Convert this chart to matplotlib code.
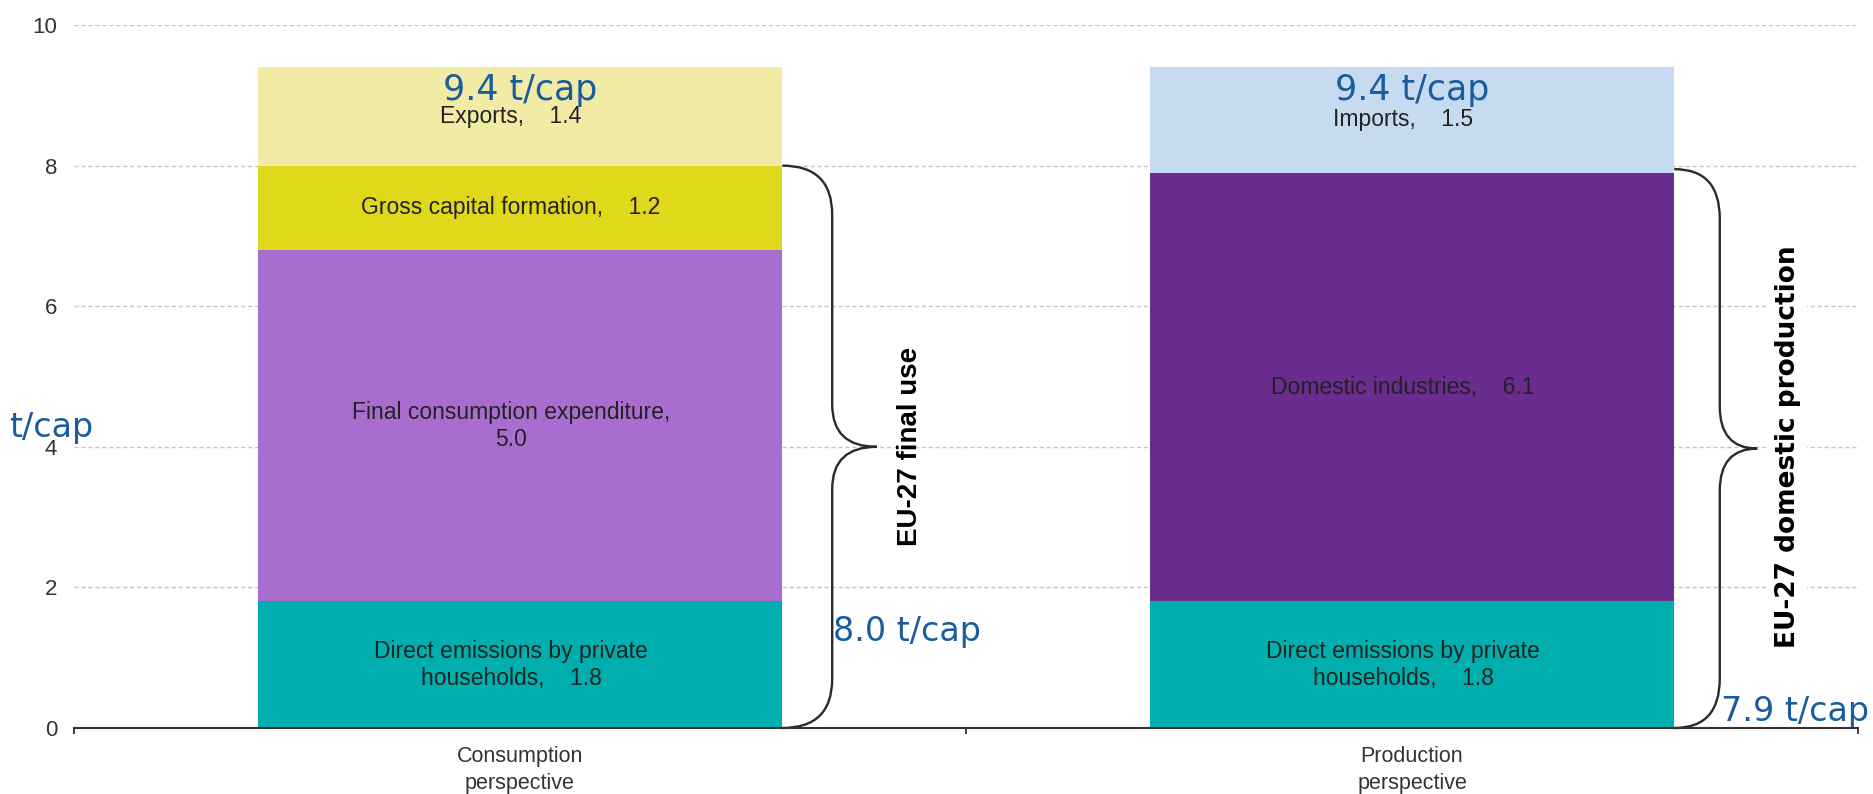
import numpy as np
import matplotlib.pyplot as plt
from matplotlib.path import Path
from matplotlib.patches import PathPatch

# data (t CO2 per capita)
perspectives = ["Consumption\nperspective", "Production\nperspective"]
cons_labels = ["Direct emissions by private\nhouseholds,    1.8", "Final consumption expenditure,\n5.0",
               "Gross capital formation,    1.2", "Exports,    1.4"]
cons_values = [1.8, 5.0, 1.2, 1.4]
cons_colors = ["#00AFAD", "#A86DCF", "#E0D81A", "#F1EBA6"]
prod_labels = ["Direct emissions by private\nhouseholds,    1.8", "Domestic industries,    6.1", "Imports,    1.5"]
prod_values = [1.8, 6.1, 1.5]
prod_colors = ["#00AFAD", "#6A2C8E", "#C6DAF0"]
y_ticks = [0, 2, 4, 6, 8, 10]

blue = "#1B5C9C"
label_font = "Liberation Sans"

fig = plt.figure(figsize=(18.73, 7.94), dpi=100)
ax = fig.add_axes([0.0395, 0.0831, 0.9525, 0.8854])

bar_w = 0.588


def stack(xpos, values, colors, labels):
    bottom = 0
    for v, c, lab in zip(values, colors, labels):
        ax.bar(xpos, v, bar_w, bottom=bottom, color=c, zorder=2)
        ax.text(xpos - 0.01, bottom + v / 2, lab, ha="center", va="center", fontsize=16.5,
                family=label_font, color="#222222", linespacing=1.2, zorder=3)
        bottom += v
    return bottom


tot_c = stack(0, cons_values, cons_colors, cons_labels)
tot_p = stack(1, prod_values, prod_colors, prod_labels)

# totals on top of the bars
ax.text(0, tot_c - 0.32, f"{tot_c:.1f} t/cap", ha="center", va="center", fontsize=25,
        family="DejaVu Sans", color=blue, zorder=4)
ax.text(1, tot_p - 0.32, f"{tot_p:.1f} t/cap", ha="center", va="center", fontsize=25,
        family="DejaVu Sans", color=blue, zorder=4)


def brace(x0, x1, x2, y0, y1, r_end, r_mid):
    ym = (y0 + y1) / 2
    verts = [(x0, y1), (x1, y1), (x1, y1 - r_end),
             (x1, ym + r_mid), (x1, ym), (x2, ym),
             (x1, ym), (x1, ym - r_mid),
             (x1, y0 + r_end), (x1, y0), (x0, y0)]
    codes = [Path.MOVETO, Path.CURVE3, Path.CURVE3,
             Path.LINETO, Path.CURVE3, Path.CURVE3,
             Path.CURVE3, Path.CURVE3,
             Path.LINETO, Path.CURVE3, Path.CURVE3]
    ax.add_patch(PathPatch(Path(verts, codes), fill=False, lw=1.7, ec="#2a2a2a",
                           clip_on=False, zorder=4))


final_use = cons_values[0] + cons_values[1] + cons_values[2]
dom_prod = prod_values[0] + prod_values[1]
half = bar_w / 2
brace(half, 0.35, 0.40, 0, final_use, 0.7, 0.6)
brace(1 + half, 1.345, 1.387, 0, dom_prod + 0.05, 0.7, 0.6)

ax.text(0.437, final_use / 2, "EU-27 final use", rotation=90, ha="center", va="center",
        fontsize=20, fontweight="bold", family="Liberation Sans", color="black", zorder=5)
ax.text(1.421, final_use / 2, "EU-27 domestic production", rotation=90, ha="center", va="center",
        fontsize=19, fontweight="bold", family="DejaVu Sans", color="black", zorder=5,
        bbox=dict(facecolor="white", edgecolor="none", pad=5))

ax.text(0.351, 1.38, f"{final_use:.1f} t/cap", ha="left", va="center", fontsize=24,
        family="DejaVu Sans", color=blue, zorder=5)
ax.text(1.346, 0.24, f"{dom_prod:.1f} t/cap", ha="left", va="center", fontsize=24,
        family="DejaVu Sans", color=blue, zorder=5, clip_on=False)
fig.text(0.005, 1 - 428 / 794, "t/cap", ha="left", va="center", fontsize=24,
         family="DejaVu Sans", color=blue)

ax.set_xlim(-0.5, 1.5)
ax.set_ylim(0, 10)
ax.set_yticks(y_ticks)
ax.set_yticklabels([str(t) for t in y_ticks], fontsize=16, family=label_font, color="#333333")
ax.tick_params(axis="y", length=0, pad=12)
ax.set_xticks([0, 1])
ax.set_xticklabels(perspectives, fontsize=15.5, family=label_font, color="#333333", linespacing=1.4)
ax.set_xticks([-0.5, 0.5, 1.5], minor=True)
ax.tick_params(axis="x", which="major", length=0, pad=13)
ax.tick_params(axis="x", which="minor", length=4, width=1.3, color="#333333")

ax.grid(axis="y", linestyle=(0, (3, 2)), color="#C4C4C4", lw=1, zorder=0)
ax.set_axisbelow(True)
for s in ["left", "right", "top"]:
    ax.spines[s].set_visible(False)
ax.spines["bottom"].set_linewidth(1.5)
ax.spines["bottom"].set_color("#333333")
ax.spines["bottom"].set_zorder(5)

fig.savefig("out.png", dpi=100)
